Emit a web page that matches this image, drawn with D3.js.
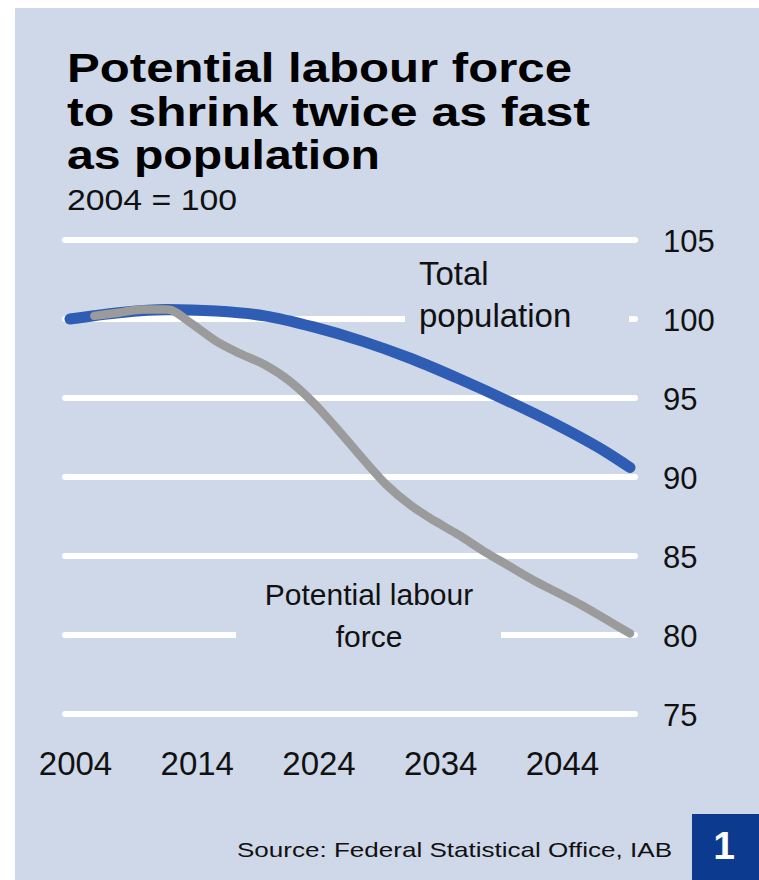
<!DOCTYPE html>
<html>
<head>
<meta charset="utf-8">
<script src="https://cdn.jsdelivr.net/npm/d3@7"></script>
<style>
  html, body { margin: 0; padding: 0; background: #ffffff; }
  svg { display: block; }
</style>
</head>
<body>
<svg id="chart" width="759" height="880"></svg>
<script>
// ---- data ----
const titleLines = ["Potential labour force", "to shrink twice as fast", "as population"];
const subtitle = "2004 = 100";
const source = "Source: Federal Statistical Office, IAB";
const badge = "1";

const xTickYears = [2004, 2014, 2024, 2034, 2044];
const yTickValues = [75, 80, 85, 90, 95, 100, 105];

const popYears =  [2004, 2008, 2012, 2016, 2020, 2024, 2028, 2032, 2036, 2040, 2044, 2048, 2050];
const popValues = [100.0, 100.4, 100.6, 100.5, 100.2, 99.5, 98.6, 97.5, 96.2, 94.8, 93.3, 91.6, 90.6];

const labYears =  [2006, 2008, 2010, 2012, 2014, 2016, 2018, 2020, 2022, 2024, 2026, 2028, 2030, 2032, 2034, 2036, 2038, 2040, 2042, 2044, 2046, 2048, 2050];
const labValues = [100.2, 100.4, 100.6, 100.6, 99.7, 98.6, 97.8, 97.1, 96.1, 94.7, 93.0, 91.2, 89.5, 88.2, 87.2, 86.3, 85.3, 84.4, 83.5, 82.7, 81.9, 81.0, 80.1];

// ---- drawing ----
const BG = "#cfd8e8";
const svg = d3.select("#chart");
const font = "'Liberation Sans', Arial, Helvetica, sans-serif";

svg.append("rect").attr("x", 15).attr("y", 8).attr("width", 744).attr("height", 872).attr("fill", BG);

const x = d3.scaleLinear().domain([2004, 2050]).range([70, 630]);
const y = d3.scaleLinear().domain([75, 105]).range([714, 240]);

// title
const titleBase = [82, 126, 169];
const titleW = [505, 523, 313];
titleLines.forEach((t, i) => {
  svg.append("text").attr("x", 67).attr("y", titleBase[i])
    .attr("font-family", font).attr("font-weight", "bold").attr("font-size", 41)
    .attr("textLength", titleW[i]).attr("lengthAdjust", "spacingAndGlyphs")
    .attr("fill", "#000").text(t);
});
svg.append("text").attr("x", 67).attr("y", 210)
  .attr("font-family", font).attr("font-size", 30)
  .attr("textLength", 170).attr("lengthAdjust", "spacingAndGlyphs")
  .attr("fill", "#111").text(subtitle);

// gridlines
svg.append("g").selectAll("line").data(yTickValues).join("line")
  .attr("x1", 65).attr("x2", 635)
  .attr("y1", d => y(d)).attr("y2", d => y(d))
  .attr("stroke", "#ffffff").attr("stroke-width", 6).attr("stroke-linecap", "round");

// label background patches (gaps in gridlines)
svg.append("rect").attr("x", 405).attr("y", y(100) - 6).attr("width", 224).attr("height", 12).attr("fill", BG);
svg.append("rect").attr("x", 236).attr("y", y(80) - 6).attr("width", 265).attr("height", 12).attr("fill", BG);

// y axis (right)
const yAxis = d3.axisRight(y).tickValues(yTickValues).tickSize(0).tickPadding(0).tickFormat(d3.format("d"));
const gy = svg.append("g").attr("transform", "translate(663,0)").call(yAxis);
gy.select(".domain").remove();
gy.selectAll("text").attr("font-family", font).attr("font-size", 31).attr("fill", "#111").attr("dy", "0.36em");

// x axis (bottom)
const xAxis = d3.axisBottom(x).tickValues(xTickYears).tickSize(0).tickPadding(0).tickFormat(d3.format("d"));
const gx = svg.append("g").attr("transform", "translate(5,775)").call(xAxis);
gx.select(".domain").remove();
gx.selectAll("text").attr("font-family", font).attr("font-size", 33).attr("fill", "#111").attr("dy", 0);

// lines
const line = d3.line().x(d => x(d[0])).y(d => y(d[1])).curve(d3.curveMonotoneX);
svg.append("path").datum(popYears.map((yr, i) => [yr, popValues[i]]))
  .attr("d", line).attr("fill", "none").attr("stroke", "#2f5db3")
  .attr("stroke-width", 11).attr("stroke-linecap", "round").attr("stroke-linejoin", "round");
svg.append("path").datum(labYears.map((yr, i) => [yr, labValues[i]]))
  .attr("d", line).attr("fill", "none").attr("stroke", "#9b9b9b")
  .attr("stroke-width", 8.5).attr("stroke-linecap", "round").attr("stroke-linejoin", "round");

// series labels
svg.append("text").attr("x", 419).attr("y", 285).attr("font-family", font).attr("font-size", 33).attr("fill", "#111").text("Total");
svg.append("text").attr("x", 419).attr("y", 327).attr("font-family", font).attr("font-size", 33).attr("fill", "#111").text("population");
svg.append("text").attr("x", 369).attr("y", 605).attr("text-anchor", "middle").attr("font-family", font).attr("font-size", 30).attr("fill", "#111").text("Potential labour");
svg.append("text").attr("x", 369).attr("y", 647).attr("text-anchor", "middle").attr("font-family", font).attr("font-size", 30).attr("fill", "#111").text("force");

// source + badge
svg.append("text").attr("x", 237).attr("y", 857).attr("font-family", font).attr("font-size", 21)
  .attr("textLength", 435).attr("lengthAdjust", "spacingAndGlyphs").attr("fill", "#111").text(source);
svg.append("rect").attr("x", 692).attr("y", 814).attr("width", 67).attr("height", 66).attr("fill", "#0b3a8e");
svg.append("text").attr("x", 724).attr("y", 859).attr("text-anchor", "middle").attr("font-family", font)
  .attr("font-weight", "bold").attr("font-size", 39).attr("fill", "#ffffff").text(badge);
</script>
</body>
</html>
